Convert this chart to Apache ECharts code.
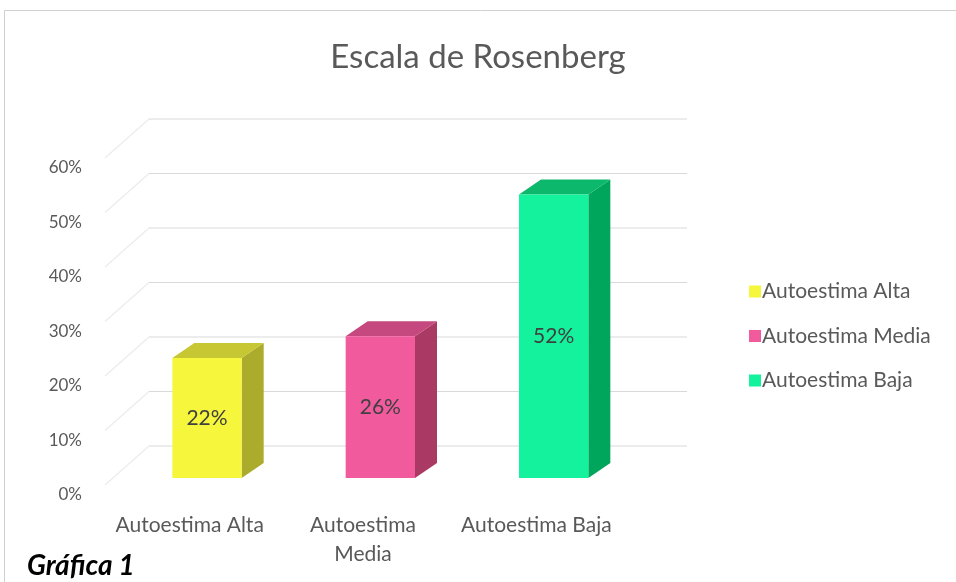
<!DOCTYPE html>
<html lang="es">
  <head>
    <meta charset="UTF-8" />
    <title>Escala de Rosenberg</title>
    <script src="https://cdn.jsdelivr.net/npm/echarts@6/dist/echarts.min.js"></script>
    <style>
      body { margin: 0; background: #fff; }
    </style>
  </head>
  <body>
    <div id="main" style="width: 956px; height: 582px"></div>
    <script type="text/javascript">
      // data
      const categories = ["Autoestima Alta", "Autoestima Media", "Autoestima Baja"];
      const values = [0.22, 0.26, 0.52];
      const ticks = [0, 0.1, 0.2, 0.3, 0.4, 0.5, 0.6];

      // front / side / top colours of each pseudo-3D column
      const faceColors = [
        ["#f6f63c", "#abab2c", "#c7c734"],
        ["#f25a9e", "#aa3a64", "#c5487e"],
        ["#14f29e", "#00a65c", "#0cb86c"]
      ];

      const font = "Lato, 'Open Sans', sans-serif";
      let myChart = echarts.init(document.getElementById("main"));

      // fake 3D column: front face, right side, top
      function columnItem(idx) {
        return function (params, api) {
          const bw = api.size([1, 0])[0];
          const base = api.coord([api.value(0), 0]);
          const top = api.coord([api.value(0), api.value(1)]);
          const w = bw * 0.4, dx = 22, dy = 15, lift = 7;
          const x0 = base[0] - bw * 0.1, x1 = x0 + w;
          const y0 = base[1] - lift, y1 = top[1] - lift;
          const c = faceColors[idx];
          return {
            type: "group",
            children: [
              { type: "polygon", shape: { points: [[x1, y0], [x1 + dx, y0 - dy], [x1 + dx, y1 - dy], [x1, y1]] }, style: { fill: c[1] } },
              { type: "polygon", shape: { points: [[x0, y1], [x1, y1], [x1 + dx, y1 - dy], [x0 + dx, y1 - dy]] }, style: { fill: c[2] } },
              { type: "rect", shape: { x: x0, y: y1, width: w, height: y0 - y1 }, style: { fill: c[0] } },
              {
                type: "text",
                style: {
                  x: (x0 + x1) / 2, y: (y0 + y1) / 2,
                  text: Math.round(api.value(1) * 100) + "%",
                  align: "center", verticalAlign: "middle",
                  fill: "#404040", font: "21px " + font
                }
              }
            ]
          };
        };
      }

      // back wall + faint side wall gridlines
      function gridItem(params, api) {
        const cs = params.coordSys;
        const p = api.coord([0, api.value(1)]);
        const back = p[1] - 39;
        return {
          type: "group",
          children: [
            {
              type: "line",
              shape: { x1: cs.x + 2, y1: p[1], x2: cs.x + 46, y2: back },
              style: { stroke: "#ececec", lineWidth: 1.2 }
            },
            {
              type: "line",
              shape: { x1: cs.x + 46, y1: back, x2: cs.x + cs.width + 64, y2: back },
              style: { stroke: "#d9d9d9", lineWidth: 1.2 }
            }
          ]
        };
      }

      const series = [
        {
          name: "grid",
          type: "custom",
          silent: true,
          z: 1,
          renderItem: gridItem,
          data: ticks.map((t) => [0, t])
        }
      ];
      categories.forEach((name, i) => {
        series.push({
          name: name,
          type: "custom",
          z: 3,
          itemStyle: { color: faceColors[i][0] },
          renderItem: columnItem(i),
          data: [[i, values[i]]]
        });
      });

      let options = {
        animation: false,
        textStyle: { fontFamily: font },
        title: [
          {
            text: "Escala de Rosenberg",
            left: "center",
            top: 36,
            textStyle: { fontSize: 33, fontWeight: "normal", color: "#595959", fontFamily: font }
          },
          {
            text: "Gráfica 1",
            left: 22,
            top: 547,
            textStyle: { fontSize: 28, fontWeight: "bold", fontStyle: "italic", color: "#000", fontFamily: font }
          }
        ],
        graphic: [
          {
            type: "rect",
            z: -1,
            shape: { x: 4.5, y: 10.5, width: 960, height: 600 },
            style: { fill: "#fff", stroke: "#d0d0d0", lineWidth: 1 }
          }
        ],
        legend: {
          data: categories,
          orient: "vertical",
          left: 744,
          top: 276,
          itemWidth: 12,
          itemHeight: 12,
          itemGap: 23.5,
          icon: "rect",
          textStyle: { fontSize: 21, lineHeight: 20, color: "#595959", fontFamily: font, padding: [0, 0, 0, -4] }
        },
        grid: { left: 103, top: 158, width: 520, bottom: 97 },
        xAxis: {
          type: "category",
          data: categories,
          axisLine: { show: false },
          axisTick: { show: false },
          axisLabel: {
            interval: 0,
            hideOverlap: false,
            margin: 26,
            fontSize: 21,
            lineHeight: 29,
            color: "#595959",
            formatter: (v) => (v.length > 15 ? v.replace(" ", "\n") : v)
          }
        },
        yAxis: {
          type: "value",
          min: 0,
          max: 0.6,
          interval: 0.1,
          splitLine: { show: false },
          axisLine: { show: false },
          axisLabel: {
            margin: 21,
            fontSize: 17,
            lineHeight: 20,
            verticalAlign: "top",
            color: "#595959",
            formatter: (v) => Math.round(v * 100) + "%"
          }
        },
        series: series
      };
      myChart.setOption(options);
    </script>
  </body>
</html>
